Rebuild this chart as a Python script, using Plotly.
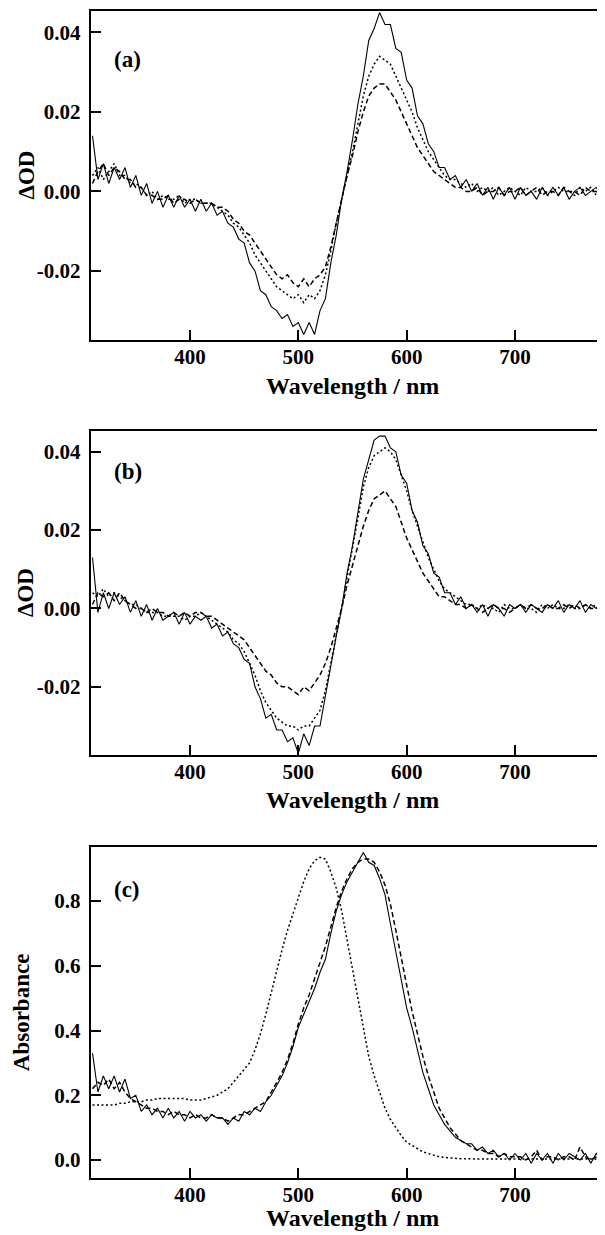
import plotly.graph_objects as go

# ---------------- data ----------------
wavelength = list(range(310, 790, 5))  # nm, 96 points

# Panel (a) transient spectra (ΔOD)
a_solid = [0.014, 0.003, 0.007, 0.002, 0.006, 0.003, 0.006, 0.001, 0.004, -0.001,
           0.002, -0.003, 0.000, -0.004, -0.001, -0.004, -0.001, -0.004, -0.002, -0.005,
           -0.002, -0.005, -0.003, -0.006, -0.005, -0.008, -0.009, -0.012, -0.013, -0.018,
           -0.020, -0.025, -0.026, -0.029, -0.030, -0.032, -0.031, -0.034, -0.033, -0.036,
           -0.033, -0.036, -0.030, -0.027, -0.018, -0.011, -0.002, 0.005, 0.013, 0.022,
           0.029, 0.038, 0.041, 0.045, 0.042, 0.042, 0.036, 0.035, 0.028, 0.026,
           0.019, 0.017, 0.012, 0.010, 0.006, 0.006, 0.003, 0.004, 0.001, 0.003,
           0.000, 0.002, -0.001, 0.001, -0.002, 0.001, -0.001, 0.001, -0.002, 0.001,
           -0.001, 0.000, -0.002, 0.001, -0.001, 0.001, -0.001, 0.001, -0.002, 0.000,
           0.001, -0.001, 0.000, 0.001, -0.001, 0.001]
a_dot = [0.004, 0.006, 0.003, 0.005, 0.007, 0.004, 0.004, 0.002, 0.002, 0.001,
         -0.001, 0.000, -0.002, -0.001, -0.002, -0.002, -0.001, -0.003, -0.002, -0.002,
         -0.003, -0.003, -0.003, -0.004, -0.005, -0.006, -0.008, -0.009, -0.011, -0.013,
         -0.016, -0.018, -0.020, -0.022, -0.024, -0.025, -0.026, -0.027, -0.026, -0.028,
         -0.026, -0.027, -0.025, -0.021, -0.015, -0.008, -0.002, 0.004, 0.010, 0.017,
         0.024, 0.029, 0.032, 0.034, 0.033, 0.032, 0.029, 0.026, 0.023, 0.020,
         0.016, 0.013, 0.010, 0.008, 0.006, 0.004, 0.003, 0.003, 0.002, 0.001,
         0.002, 0.000, 0.001, 0.000, 0.001, -0.001, 0.000, 0.001, 0.000, -0.001,
         0.001, 0.000, 0.000, 0.001, -0.001, 0.000, 0.001, 0.000, 0.000, -0.001,
         0.001, 0.000, 0.001, -0.001, 0.000, 0.001]
a_dash = [0.002, 0.005, 0.007, 0.004, 0.006, 0.005, 0.003, 0.003, 0.001, 0.001,
          -0.001, -0.001, -0.002, -0.002, -0.001, -0.003, -0.002, -0.002, -0.003, -0.002,
          -0.003, -0.003, -0.003, -0.004, -0.004, -0.005, -0.007, -0.008, -0.010, -0.011,
          -0.013, -0.015, -0.017, -0.019, -0.021, -0.022, -0.021, -0.023, -0.024, -0.022,
          -0.024, -0.022, -0.021, -0.019, -0.014, -0.008, -0.002, 0.004, 0.009, 0.015,
          0.020, 0.024, 0.026, 0.027, 0.027, 0.025, 0.023, 0.020, 0.017, 0.014,
          0.011, 0.009, 0.007, 0.005, 0.004, 0.003, 0.002, 0.001, 0.001, 0.000,
          0.000, 0.001, -0.001, 0.000, 0.000, 0.001, -0.001, 0.000, 0.000, 0.001,
          -0.001, 0.000, 0.001, -0.001, 0.000, 0.000, -0.001, 0.001, 0.000, 0.000,
          -0.001, 0.001, 0.000, 0.000, -0.001, 0.000]

# Panel (b) transient spectra (ΔOD)
b_solid = [0.013, -0.001, 0.004, 0.000, 0.004, 0.001, 0.003, -0.001, 0.002, -0.002,
           0.001, -0.003, 0.000, -0.003, -0.002, -0.001, -0.004, -0.001, -0.004, -0.002,
           -0.003, -0.002, -0.005, -0.004, -0.007, -0.006, -0.009, -0.010, -0.013, -0.014,
           -0.020, -0.023, -0.028, -0.027, -0.031, -0.031, -0.034, -0.033, -0.037, -0.032,
           -0.035, -0.030, -0.030, -0.022, -0.015, -0.007, 0.000, 0.009, 0.016, 0.025,
           0.033, 0.038, 0.043, 0.044, 0.044, 0.041, 0.040, 0.034, 0.032, 0.025,
           0.022, 0.016, 0.014, 0.009, 0.008, 0.004, 0.004, 0.001, 0.003, 0.000,
           0.001, -0.001, 0.001, -0.002, 0.001, 0.000, -0.002, 0.001, 0.000, 0.001,
           -0.001, 0.001, 0.000, -0.001, 0.001, 0.000, 0.002, -0.001, 0.001, 0.000,
           0.002, -0.001, 0.001, 0.000, 0.002, 0.000]
b_dot = [0.004, 0.003, 0.005, 0.003, 0.004, 0.003, 0.002, 0.001, 0.001, 0.000,
         -0.001, -0.001, -0.001, -0.002, -0.002, -0.002, -0.002, -0.003, -0.002, -0.002,
         -0.001, -0.002, -0.003, -0.004, -0.005, -0.006, -0.008, -0.009, -0.011, -0.014,
         -0.017, -0.021, -0.024, -0.026, -0.028, -0.029, -0.030, -0.030, -0.031, -0.030,
         -0.030, -0.028, -0.026, -0.021, -0.014, -0.007, 0.000, 0.008, 0.015, 0.023,
         0.031, 0.036, 0.039, 0.040, 0.041, 0.040, 0.038, 0.034, 0.030, 0.025,
         0.021, 0.017, 0.013, 0.010, 0.007, 0.005, 0.004, 0.003, 0.002, 0.001,
         0.001, 0.000, 0.001, 0.000, 0.000, -0.001, 0.001, 0.000, 0.000, 0.001,
         0.000, 0.000, -0.001, 0.001, 0.000, 0.001, 0.000, 0.000, 0.001, 0.000,
         0.000, 0.001, 0.000, 0.001, 0.001, 0.000]
b_dash = [0.001, 0.004, 0.003, 0.004, 0.002, 0.004, 0.002, 0.001, 0.000, 0.000,
          -0.001, 0.000, -0.001, -0.001, -0.002, -0.001, -0.002, -0.001, -0.002, -0.001,
          -0.001, -0.002, -0.002, -0.003, -0.004, -0.005, -0.006, -0.007, -0.008, -0.010,
          -0.012, -0.014, -0.016, -0.017, -0.019, -0.020, -0.020, -0.021, -0.022, -0.020,
          -0.021, -0.019, -0.017, -0.014, -0.010, -0.005, 0.000, 0.006, 0.011, 0.016,
          0.021, 0.025, 0.028, 0.029, 0.030, 0.028, 0.026, 0.022, 0.018, 0.015,
          0.012, 0.009, 0.007, 0.005, 0.003, 0.003, 0.002, 0.001, 0.001, 0.000,
          0.001, 0.000, -0.001, 0.000, 0.001, 0.000, 0.000, -0.001, 0.000, 0.001,
          0.000, 0.001, 0.000, 0.000, 0.001, 0.000, 0.000, 0.001, 0.000, 0.001,
          0.000, 0.001, 0.000, 0.000, 0.001, 0.000]

# Panel (c) absorption spectra
c_solid = [0.33, 0.21, 0.26, 0.22, 0.26, 0.21, 0.25, 0.19, 0.20, 0.15,
           0.17, 0.14, 0.16, 0.13, 0.16, 0.13, 0.15, 0.12, 0.15, 0.13,
           0.14, 0.12, 0.14, 0.13, 0.13, 0.11, 0.13, 0.12, 0.15, 0.14,
           0.16, 0.15, 0.18, 0.20, 0.23, 0.26, 0.30, 0.35, 0.41, 0.45,
           0.49, 0.53, 0.58, 0.62, 0.70, 0.77, 0.82, 0.86, 0.89, 0.92,
           0.95, 0.92, 0.91, 0.87, 0.82, 0.73, 0.64, 0.56, 0.47, 0.41,
           0.34, 0.27, 0.22, 0.17, 0.14, 0.11, 0.09, 0.07, 0.06, 0.05,
           0.05, 0.03, 0.04, 0.02, 0.03, 0.01, 0.02, 0.00, 0.02, 0.00,
           0.02, -0.01, 0.02, 0.00, 0.02, -0.01, 0.02, 0.00, 0.02, 0.01,
           0.00, 0.02, -0.01, 0.02, 0.00, 0.01]
c_dash = [0.22, 0.24, 0.23, 0.25, 0.22, 0.24, 0.21, 0.19, 0.18, 0.17,
          0.16, 0.16, 0.15, 0.15, 0.14, 0.15, 0.14, 0.14, 0.13, 0.14,
          0.13, 0.13, 0.14, 0.13, 0.13, 0.12, 0.13, 0.14, 0.14, 0.15,
          0.16, 0.17, 0.18, 0.21, 0.24, 0.27, 0.31, 0.36, 0.42, 0.47,
          0.51, 0.56, 0.61, 0.66, 0.72, 0.78, 0.83, 0.87, 0.90, 0.92,
          0.93, 0.93, 0.92, 0.89, 0.85, 0.79, 0.71, 0.62, 0.54, 0.46,
          0.39, 0.32, 0.26, 0.21, 0.16, 0.13, 0.10, 0.08, 0.06, 0.05,
          0.04, 0.03, 0.03, 0.02, 0.02, 0.01, 0.02, 0.01, 0.01, 0.01,
          0.00, 0.01, 0.03, 0.00, 0.01, 0.01, 0.00, 0.01, 0.01, 0.00,
          0.04, 0.01, 0.00, 0.01, 0.01, 0.00]
c_dot = [0.17, 0.17, 0.17, 0.17, 0.17, 0.175, 0.175, 0.18, 0.18, 0.18,
         0.185, 0.185, 0.19, 0.19, 0.19, 0.19, 0.19, 0.19, 0.185, 0.185,
         0.185, 0.19, 0.195, 0.20, 0.21, 0.22, 0.24, 0.26, 0.28, 0.30,
         0.34, 0.39, 0.45, 0.52, 0.58, 0.65, 0.71, 0.76, 0.81, 0.86,
         0.90, 0.925, 0.935, 0.93, 0.89, 0.84, 0.77, 0.68, 0.58, 0.49,
         0.40, 0.32, 0.26, 0.21, 0.16, 0.125, 0.10, 0.075, 0.055, 0.045,
         0.035, 0.025, 0.02, 0.015, 0.01, 0.008, 0.006, 0.005, 0.004, 0.004,
         0.003, 0.003, 0.003, 0.003, 0.003, 0.003, 0.003, 0.003, 0.003, 0.003,
         0.003, 0.003, 0.003, 0.003, 0.003, 0.003, 0.003, 0.003, 0.003, 0.003,
         0.003, 0.003, 0.003, 0.003, 0.003, 0.003]

x_ticks = [400, 500, 600, 700]
od_ticks = [-0.02, 0.00, 0.02, 0.04]
od_ticktext = ["-0.02", "0.00", "0.02", "0.04"]
abs_ticks = [0.0, 0.2, 0.4, 0.6, 0.8]
abs_ticktext = ["0.0", "0.2", "0.4", "0.6", "0.8"]
panel_labels = ["(a)", "(b)", "(c)"]
x_title = "Wavelength / nm"
y_titles = ["ΔOD", "ΔOD", "Absorbance"]

# ---------------- figure ----------------
# the page body adds an 8 px margin; layout positions are given in page pixels
# and converted to figure fractions. The figure runs a little past the
# window's right edge so the plot area is cut by the edge, as in the reference.
OFF = 8
W, H = 605, 1235 - OFF
FONT = "Liberation Serif, Times New Roman, serif"
solid = dict(color="black", width=1.1)
dotted = dict(color="black", width=1.5, dash="2px,2.5px")
dashed = dict(color="black", width=1.5, dash="5px,3px")

fig = go.Figure()
panels = [
    ("x", "y", [(a_solid, solid), (a_dot, dotted), (a_dash, dashed)]),
    ("x2", "y2", [(b_solid, solid), (b_dot, dotted), (b_dash, dashed)]),
    ("x3", "y3", [(c_solid, solid), (c_dash, dashed), (c_dot, dotted)]),
]
for xa, ya, series in panels:
    for vals, ln in series:
        fig.add_trace(go.Scatter(x=wavelength, y=vals, mode="lines", line=ln,
                                 xaxis=xa, yaxis=ya, showlegend=False))

def px_x(p):
    return (p - OFF) / W

def px_y(p):
    return 1 - (p - OFF) / H

left_px = 90.7
right_px = OFF + W            # 613, beyond the window edge
nm_per_px = 100 / 108.33
x_range = [400 - (190 - left_px) * nm_per_px, 400 + (right_px - 190) * nm_per_px]
panel_px = [(11, 340), (431, 755), (846.7, 1177.7)]
y_ranges = [[-0.0374, 0.0454], [-0.0374, 0.0453], [-0.0547, 0.968]]
x_title_y = [386, 800, 1218]

tickfont = dict(family=FONT, size=21, color="black", weight="bold")
common_x = dict(range=x_range, tickvals=x_ticks, ticks="inside", ticklen=10,
                tickwidth=2, tickcolor="black", showline=True, linewidth=2,
                linecolor="black", mirror=True, showgrid=False, zeroline=False,
                tickfont=tickfont, domain=[px_x(left_px), 1.0], automargin=False,
                ticklabelstandoff=-3)
layout = dict(width=W, height=H, margin=dict(l=0, r=0, t=0, b=0),
              paper_bgcolor="white", plot_bgcolor="white", showlegend=False)
annotations = []
for i, (top, bot) in enumerate(panel_px):
    sfx = "" if i == 0 else str(i + 1)
    layout["xaxis" + sfx] = dict(common_x, anchor="y" + sfx)
    if i < 2:
        tv, tt = od_ticks, od_ticktext
    else:
        tv, tt = abs_ticks, abs_ticktext
    layout["yaxis" + sfx] = dict(range=y_ranges[i], tickvals=tv, ticktext=tt,
                                 ticks="inside", ticklen=10, tickwidth=2,
                                 tickcolor="black", showline=True, linewidth=2,
                                 linecolor="black", mirror=False, showgrid=False,
                                 zeroline=False, tickfont=tickfont,
                                 domain=[px_y(bot), px_y(top)],
                                 anchor="x" + sfx, automargin=False,
                                 ticklabelstandoff=4)
    annotations.append(dict(text=x_title, x=px_x(352), y=px_y(x_title_y[i]),
                            xref="paper", yref="paper", showarrow=False,
                            xanchor="center", yanchor="middle",
                            font=dict(family=FONT, size=24, color="black", weight="bold")))
    annotations.append(dict(text=y_titles[i], x=px_x(26 if i < 2 else 21),
                            y=px_y((top + bot) / 2), xref="paper", yref="paper",
                            showarrow=False, textangle=-90, xanchor="center",
                            yanchor="middle",
                            font=dict(family=FONT, size=23, color="black", weight="bold")))
    lab_y = [60, 472, 889][i]
    annotations.append(dict(text=panel_labels[i], x=px_x(112), y=px_y(lab_y),
                            xref="paper", yref="paper", showarrow=False,
                            xanchor="left", yanchor="middle",
                            font=dict(family=FONT, size=23, color="black", weight="bold")))
layout["annotations"] = annotations
fig.update_layout(**layout)
fig.write_html("out.html")
